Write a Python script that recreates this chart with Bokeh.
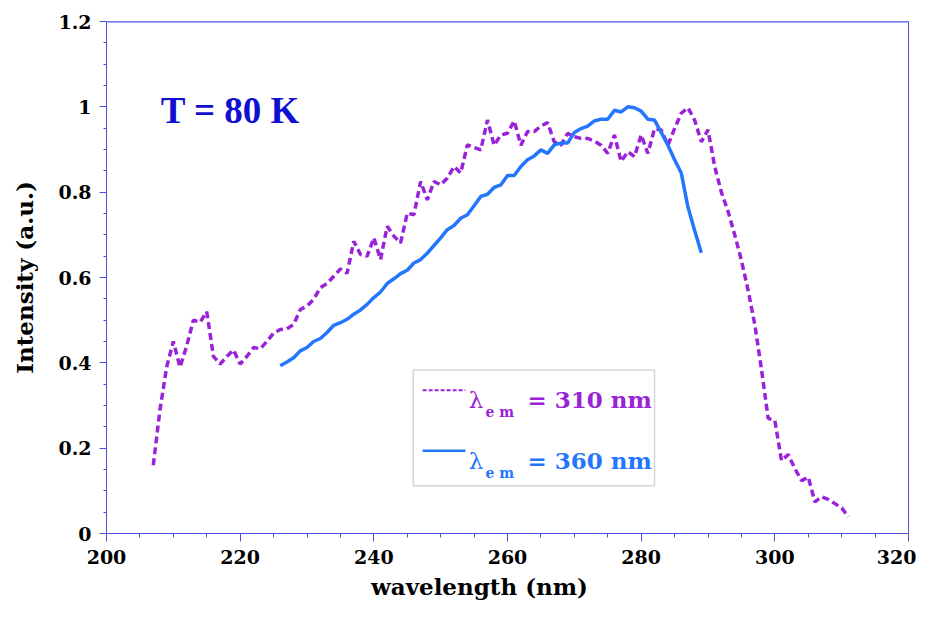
from bokeh.plotting import figure
from bokeh.models import Range1d, FixedTicker, Label, BoxAnnotation, Span
from bokeh.embed import file_html
from bokeh.resources import INLINE

# emission at 310 nm (dashed purple), 1 nm steps
wl_310 = list(range(207, 312))
int_310 = [0.16, 0.29, 0.39, 0.45, 0.39, 0.44, 0.50, 0.495, 0.52, 0.415,
           0.397, 0.415, 0.43, 0.397, 0.415, 0.436, 0.433, 0.45, 0.47, 0.478,
           0.48, 0.49, 0.525, 0.533, 0.549, 0.576, 0.586, 0.603, 0.62, 0.61,
           0.685, 0.654, 0.65, 0.693, 0.642, 0.72, 0.697, 0.681, 0.751, 0.747,
           0.825, 0.782, 0.825, 0.817, 0.833, 0.86, 0.845, 0.911, 0.905, 0.899,
           0.969, 0.91, 0.934, 0.938, 0.967, 0.91, 0.942, 0.942, 0.955, 0.963,
           0.918, 0.91, 0.938, 0.93, 0.926, 0.926, 0.92, 0.91, 0.891, 0.934,
           0.872, 0.895, 0.883, 0.934, 0.891, 0.949, 0.946, 0.91, 0.949, 0.985,
           0.998, 0.969, 0.918, 0.946, 0.86, 0.80, 0.755, 0.70, 0.64, 0.57,
           0.49, 0.385, 0.27, 0.265, 0.171, 0.185, 0.152, 0.124, 0.132, 0.074,
           0.086, 0.08, 0.07, 0.06, 0.039]

# emission at 360 nm (solid blue)
wl_360 = list(range(226, 290))
int_360 = [0.393, 0.402, 0.412, 0.428, 0.436, 0.45, 0.457, 0.471, 0.488, 0.494,
           0.502, 0.514, 0.524, 0.537, 0.553, 0.566, 0.586, 0.597, 0.609, 0.617,
           0.634, 0.642, 0.657, 0.675, 0.693, 0.712, 0.722, 0.739, 0.747, 0.768,
           0.79, 0.795, 0.811, 0.817, 0.839, 0.839, 0.86, 0.876, 0.885, 0.899,
           0.891, 0.911, 0.915, 0.915, 0.94, 0.949, 0.955, 0.967, 0.971, 0.971,
           0.992, 0.988, 1.0, 0.998, 0.99, 0.971, 0.969, 0.94, 0.91, 0.876,
           0.845, 0.765, 0.71, 0.658]

x_ticks = [200, 220, 240, 260, 280, 300, 320]
x_minor = [205, 210, 215, 225, 230, 235, 245, 250, 255, 265, 270, 275,
           285, 290, 295, 305, 310, 315]
y_ticks = [0, 0.2, 0.4, 0.6, 0.8, 1, 1.2]
y_tick_labels = ["0", "0.2", "0.4", "0.6", "0.8", "1", "1.2"]
y_minor = [0.05, 0.1, 0.15, 0.25, 0.3, 0.35, 0.45, 0.5, 0.55, 0.65, 0.7,
           0.75, 0.85, 0.9, 0.95, 1.05, 1.1, 1.15]

PURPLE = "#9a22d8"
BLUE = "#2476ff"
AXIS = "#5050e0"
SERIF = "DejaVu Serif"

p = figure(width=916, height=602, output_backend="svg", toolbar_location=None,
           x_range=Range1d(200, 320), y_range=Range1d(0, 1.2),
           min_border_left=106, min_border_right=8, min_border_top=21,
           min_border_bottom=67)
p.xgrid.visible = False
p.ygrid.visible = False
p.outline_line_color = AXIS
p.outline_line_width = 1

p.line(wl_310, int_310, line_color=PURPLE, line_width=3.5, line_dash="7 4")
p.line(wl_360, int_360, line_color=BLUE, line_width=3.5)

# top border drawn lighter
p.add_layout(Span(location=1.2, dimension="width", line_color="#a8a8f0", line_width=3))

p.xaxis.ticker = FixedTicker(ticks=x_ticks, minor_ticks=x_minor)
p.yaxis.ticker = FixedTicker(ticks=y_ticks, minor_ticks=y_minor)
p.yaxis.major_label_overrides = dict(zip(y_ticks, y_tick_labels))

for ax in (p.xaxis, p.yaxis):
    ax.axis_line_color = AXIS
    ax.major_tick_line_color = AXIS
    ax.minor_tick_line_color = AXIS
    ax.major_tick_in = 0
    ax.minor_tick_in = 0
    ax.major_label_text_font = SERIF
    ax.major_label_text_font_style = "bold"
    ax.major_label_text_font_size = "19px"
    ax.major_label_text_color = "black"
    ax.axis_label_text_font = SERIF
    ax.axis_label_text_font_style = "bold"
    ax.axis_label_text_font_size = "23px"
    ax.axis_label_text_color = "black"

p.xaxis.major_tick_out = 8
p.xaxis.minor_tick_out = 4
p.xaxis.major_label_standoff = 8
p.yaxis.major_tick_out = 7
p.yaxis.minor_tick_out = 3
p.yaxis.major_label_standoff = 8

p.yaxis.axis_label = "Intensity (a.u.)"
p.yaxis.axis_label_standoff = 17
# trailing no-break spaces pull the centred label left, as in the original
p.xaxis.axis_label = "wavelength (nm)" + "\u00a0" * 7
p.xaxis.axis_label_standoff = 6

p.add_layout(Label(x=208.1, y=0.992, text="T = 80 K", text_baseline="alphabetic",
                   text_font="Liberation Serif", text_font_style="bold",
                   text_font_size="37px", text_color="#1010d0"))

# legend box
p.add_layout(BoxAnnotation(left=245.9, right=282.0, bottom=0.112, top=0.383,
                           fill_alpha=0, line_color="#777777", line_width=1.5))
p.line([247.3, 253.7], [0.336, 0.336], line_color=PURPLE, line_width=2, line_dash="4 2")
p.line([247.3, 253.7], [0.194, 0.194], line_color=BLUE, line_width=2.5)
for yb, col, txt in ((0.313, PURPLE, "= 310 nm"), (0.170, BLUE, "= 360 nm")):
    p.add_layout(Label(x=254.2, y=yb, text="λ", text_baseline="alphabetic",
                       text_font=SERIF, text_font_size="23px", text_color=col))
    p.add_layout(Label(x=256.7, y=yb - 0.028, text="e m", text_baseline="alphabetic",
                       text_font=SERIF, text_font_style="bold", text_font_size="14px",
                       text_color=col))
    p.add_layout(Label(x=263.0, y=yb, text=txt, text_baseline="alphabetic",
                       text_font=SERIF, text_font_style="bold", text_font_size="23px",
                       text_color=col))

open("out.html", "w").write(file_html(p, INLINE))
